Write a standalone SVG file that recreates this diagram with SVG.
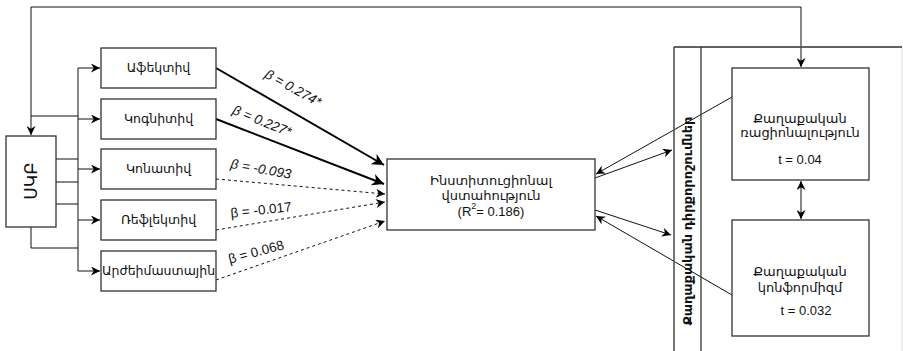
<svg xmlns="http://www.w3.org/2000/svg" width="903" height="351" viewBox="0 0 903 351">
<defs>
<style>
.box{fill:#fff;stroke:#333;stroke-width:1.3}
.t{font-family:"Liberation Sans","DejaVu Sans",sans-serif;font-size:12.5px;fill:#111;text-anchor:middle;dominant-baseline:central}
.m{font-size:13px}
.lbl{font-size:13.5px}
.i{font-style:italic}
.ln{fill:none;stroke:#111;stroke-width:1}
.thick{fill:none;stroke:#000;stroke-width:2}
.dash{fill:none;stroke:#111;stroke-width:1;stroke-dasharray:3 3}
</style>
<marker id="a" viewBox="0 0 10 10" refX="10" refY="5" markerWidth="9" markerHeight="9" markerUnits="userSpaceOnUse" orient="auto-start-reverse"><path d="M0,0 L10,5 L0,10 L3,5 z" fill="#000"/></marker>
<marker id="ab" viewBox="0 0 10 10" refX="10" refY="5" markerWidth="12" markerHeight="12" markerUnits="userSpaceOnUse" orient="auto"><path d="M0,0 L10,5 L0,10 L3,5 z" fill="#000"/></marker>
</defs>

<g id="connectors">
<path class="ln" d="M31,135 V7 H801 V67" marker-start="url(#a)" marker-end="url(#a)"/>
<path class="ln" d="M78,68 V271"/>
<path class="ln" d="M31,116 H78"/>
<path class="ln" d="M56,159 H78 M56,182 H78 M56,204 H78"/>
<path class="ln" d="M31,227 V248 H78"/>
<path class="ln" d="M78,68 H100" marker-end="url(#a)"/>
<path class="ln" d="M78,119 H100" marker-end="url(#a)"/>
<path class="ln" d="M78,169 H100" marker-end="url(#a)"/>
<path class="ln" d="M78,220 H100" marker-end="url(#a)"/>
<path class="ln" d="M78,271 H100" marker-end="url(#a)"/>
<path class="thick" d="M216,68 L384,165" marker-end="url(#ab)"/>
<path class="thick" d="M216,119 L384,184" marker-end="url(#ab)"/>
<path class="dash" d="M216,179 L385,194" marker-end="url(#a)"/>
<path class="dash" d="M216,230 L385,202" marker-end="url(#a)"/>
<path class="dash" d="M216,280 L385,221" marker-end="url(#a)"/>
<path class="ln" d="M595,178 L672,150" marker-end="url(#a)"/>
<path class="ln" d="M732,97 L596,174" marker-end="url(#a)"/>
<path class="ln" d="M595,210 L671,235" marker-end="url(#a)"/>
<path class="ln" d="M732,295 L596,216" marker-end="url(#a)"/>
<path class="ln" d="M801,181 V219" marker-start="url(#a)" marker-end="url(#a)"/>
<g>
<text class="t lbl i" transform="translate(293,88) rotate(29)">β = 0.274*</text>
<text class="t lbl i" transform="translate(262,121) rotate(22)">β = 0.227*</text>
<text class="t lbl i" transform="translate(261,169) rotate(10)">β = -0.093</text>
<text class="t lbl" transform="translate(261,210) rotate(-6)">β = -0.017</text>
<text class="t lbl" transform="translate(256,252) rotate(-15)">β = 0.068</text>
</g>
</g>

<g id="group">
<rect x="674" y="47" width="228" height="320" fill="none" stroke="#ddd" stroke-width="1"/>
<line x1="674" y1="47" x2="902" y2="47" stroke="#333" stroke-width="1.3"/>
<line x1="674" y1="47" x2="674" y2="351" stroke="#333" stroke-width="1.3"/>
<line x1="701" y1="47" x2="701" y2="351" stroke="#333" stroke-width="1.3"/>
<text class="t" font-weight="bold" style="font-size:13px" transform="translate(687,221) rotate(-90)">Քաղաքական դիրքորոշումներ</text>
</g>

<g id="n-skb">
<rect class="box" x="6" y="136" width="50" height="91"/>
<text class="t" style="font-size:17px" transform="translate(31,181) rotate(-90)">ՍԿԲ</text>
</g>
<g id="n-afektiv">
<rect class="box" x="101" y="48" width="115" height="40"/>
<text class="t" x="158.5" y="68">Աֆեկտիվ</text>
</g>
<g id="n-kognitiv">
<rect class="box" x="101" y="99" width="115" height="40"/>
<text class="t" x="158.5" y="119">Կոգնիտիվ</text>
</g>
<g id="n-konativ">
<rect class="box" x="101" y="149" width="115" height="40"/>
<text class="t" x="158.5" y="169">Կոնատիվ</text>
</g>
<g id="n-reflektiv">
<rect class="box" x="101" y="200" width="115" height="40"/>
<text class="t" x="158.5" y="220">Ռեֆլեկտիվ</text>
</g>
<g id="n-arzheimastayin">
<rect class="box" x="101" y="251" width="115" height="40"/>
<text class="t" x="158.5" y="271">Արժեիմաստային</text>
</g>
<g id="n-trust">
<rect class="box" x="387" y="159" width="208" height="71"/>
<text class="t m" x="491" y="180">Ինստիտուցիոնալ</text>
<text class="t m" x="491" y="195">վստահություն</text>
<text class="t m" x="491" y="211">(R<tspan baseline-shift="super" font-size="9">2</tspan>= 0.186)</text>
</g>
<g id="n-rational">
<rect class="box" x="732" y="68" width="137" height="112"/>
<text class="t m" x="800" y="118">Քաղաքական</text>
<text class="t m" x="800" y="132">ռացիոնալություն</text>
<text class="t m" x="800" y="159">t = 0.04</text>
</g>
<g id="n-conform">
<rect class="box" x="732" y="220" width="137" height="116"/>
<text class="t m" x="800" y="271">Քաղաքական</text>
<text class="t m" x="800" y="287">կոնֆորմիզմ</text>
<text class="t m" x="806" y="310">t = 0.032</text>
</g>
</svg>
